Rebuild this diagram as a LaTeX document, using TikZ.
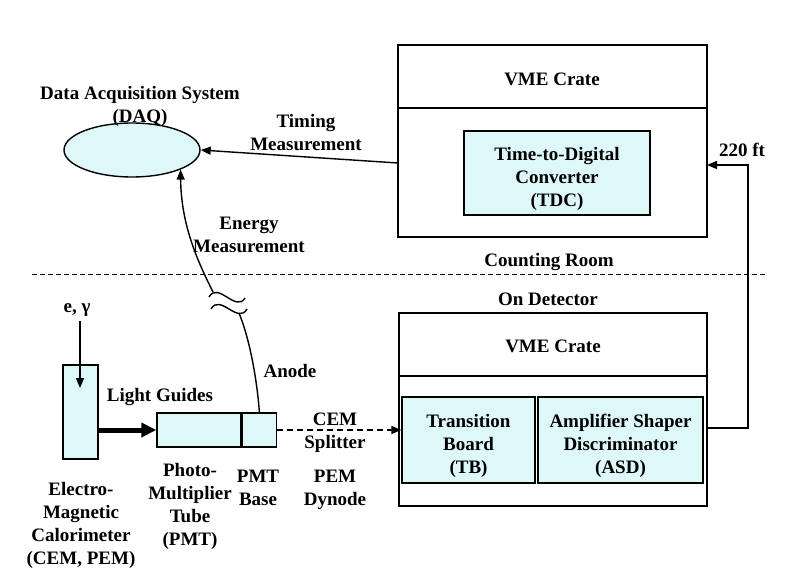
\documentclass[tikz,border=0pt]{standalone}
\usepackage{fontspec}
\setmainfont{Liberation Serif}
\usetikzlibrary{arrows.meta,shapes.geometric}
\definecolor{boxfill}{RGB}{222,248,250}
\newcommand{\toppad}{\rule{0pt}{25pt}}

\begin{document}
\begin{tikzpicture}[x=1pt, y=-1pt, line width=1.4pt,
    every node/.style={font=\fontsize{19}{23}\selectfont\bfseries, align=center},
    part/.style={draw, fill=boxfill, inner sep=0pt},
    crate/.style={draw, inner sep=0pt},
    arr/.style={-{Triangle[length=10pt,width=8pt]}}]
      \useasboundingbox (0,0) rectangle (785,574);
      %
      \node[crate, minimum width=309, minimum height=192] (topcrate) at (552.5,141) {}; % counting room
      \draw (398,108) -- (707,108);
      \node (topvme) at (552,79) {VME Crate};
      \node[part, minimum width=186, minimum height=84] (tdc) at (557,173) {\toppad Time-to-Digital\\Converter\\(TDC)};
      %
      \node[crate, minimum width=308, minimum height=193] (botcrate) at (553,409.5) {}; % on detector
      \draw (399,376) -- (707,376);
      \node (botvme) at (553,346) {VME Crate};
      \node[part, minimum width=133, minimum height=86] (tb) at (468.5,440) {\toppad Transition\\Board\\(TB)};
      \node[part, minimum width=165, minimum height=86] (asd) at (620.5,440) {\toppad Amplifier Shaper\\Discriminator\\(ASD)};
      %
      \node[part, ellipse, minimum width=136, minimum height=54] (daq) at (132,150) {}; % daq
      \node (daqlbl) at (140,106) {Data Acquisition System\\(DAQ)};
      %
      \node[part, minimum width=35, minimum height=94] (cal) at (80.5,412) {};          % detector parts
      \node[part, minimum width=84, minimum height=34] (pmt) at (199,430) {};
      \node[part, minimum width=34, minimum height=34, anchor=west] (base) at (pmt.east) {};
      %
      \draw[dash pattern=on 5pt off 3pt, line width=1pt] (32,274) -- (767,274); % rooms
      \node (counting) at (549,262) {Counting Room};
      \node (ondet) at (548,299) {On Detector};
      %
      \node (timing) at (306,133) {Timing\\Measurement};                           % labels
      \node (energy) at (249,235) {Energy\\Measurement};
      \node (ft) at (742,150) {220 ft};
      \node (egamma) at (77,310) {e, γ};
      \node (guides) at (160,397) {Light Guides};
      \node (anode) at (290,371) {Anode};
      \node (cemspl) at (335,433) {CEM\\Splitter};
      \node (pemdyn) at (335,490) {PEM\\Dynode};
      \node (callbl) at (81,525) {Electro-\\Magnetic\\Calorimeter\\(CEM, PEM)};
      \node (pmtlbl) at (190,506) {Photo-\\Multiplier\\Tube\\(PMT)};
      \node (baselbl) at (258,488) {PMT\\Base};
      %
      \coordinate (tmout) at (398,163);                                            % connectors
      \coordinate (tdcin) at (707,165);
      \coordinate (asdout) at (707,428);
      \coordinate (ehit) at (80,388);
      \coordinate (brklo) at (239,313);
      \coordinate (brkhi) at (213,292);
      %
      \draw[arr] (tmout) -- (daq.east);
      \draw[arr] (asdout) -- ++(41,0) |- (tdcin);
      \draw[arr, dash pattern=on 6pt off 4pt] (base.east) -- (base.east -| tb.west);
      \draw[-{Triangle[length=15pt,width=14pt]}, line width=5pt] (cal.east |- pmt.west) -- (pmt.west);
      \draw[arr] (ehit |- egamma.south) -- (ehit);
      %
      \draw (base.north) .. controls (257,380) and (250,340) .. (brklo);           % anode cable
      \draw[arr] (brkhi) .. controls (198,262) and (181,225) .. (daq.south east);
      \draw (209,297) .. controls (218,281) and (236,313) .. (245,298);            % break
      \draw (211,309) .. controls (220,293) and (238,325) .. (247,309);
      %
    \end{tikzpicture}
\end{document}
